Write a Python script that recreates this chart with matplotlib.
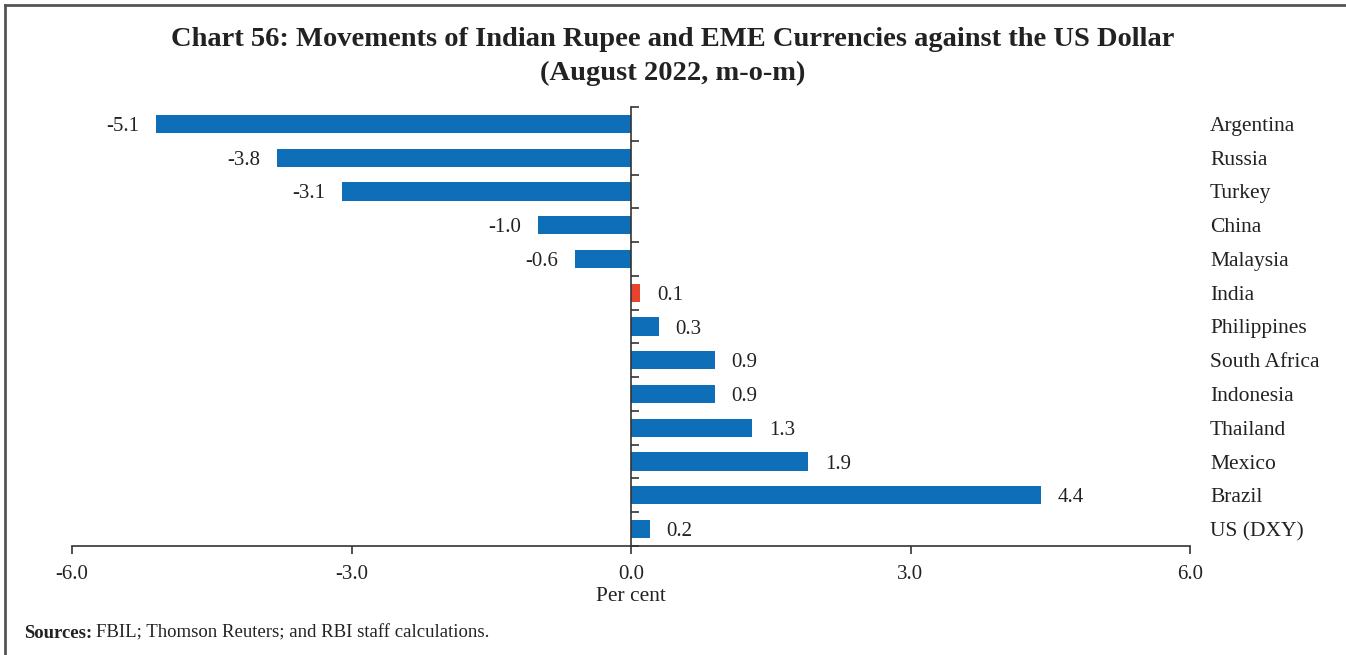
import matplotlib
matplotlib.use("Agg")
import matplotlib.pyplot as plt
from matplotlib.lines import Line2D
from matplotlib.transforms import blended_transform_factory
import numpy as np

categories = ["Argentina", "Russia", "Turkey", "China", "Malaysia", "India",
              "Philippines", "South Africa", "Indonesia", "Thailand", "Mexico",
              "Brazil", "US (DXY)"]
values = [-5.1, -3.8, -3.1, -1.0, -0.6, 0.1, 0.3, 0.9, 0.9, 1.3, 1.9, 4.4, 0.2]
xticks = [-6.0, -3.0, 0.0, 3.0, 6.0]
xtick_labels = ["-6.0", "-3.0", "0.0", "3.0", "6.0"]

blue = "#0e6eb8"
red = "#e8432c"
txt = "#222222"
colors = [red if c == "India" else blue for c in categories]

plt.rcParams["font.family"] = ["Liberation Serif", "DejaVu Serif"]

fig = plt.figure(figsize=(13.46, 6.55), dpi=100)
ax = fig.add_axes([72/1346, 1-546/655, (1190-72)/1346, (546-107)/655])

n = len(categories)
ypos = np.arange(n)
ax.barh(ypos, values, height=0.54, color=colors, zorder=2)
ax.set_ylim(n - 0.5, -0.5)
ax.set_xlim(-6, 6)

lab_tr = blended_transform_factory(fig.transFigure, ax.transData)
for y, v, c in zip(ypos, values, categories):
    if v < 0:
        ax.annotate(f"{v:.1f}", (v, y), xytext=(-12, 0), textcoords="offset points",
                    ha="right", va="center_baseline", fontsize=15, color=txt)
    else:
        ax.annotate(f"{v:.1f}", (v, y), xytext=(12, 0), textcoords="offset points",
                    ha="left", va="center_baseline", fontsize=15, color=txt)
    ax.text(1210/1346, y, c, transform=lab_tr,
            ha="left", va="center_baseline", fontsize=15.5, color=txt)

for s in ["top", "right"]:
    ax.spines[s].set_visible(False)
ax.spines["left"].set_position(("data", 0))
ax.spines["left"].set_color("#333333")
ax.spines["bottom"].set_color("#333333")
ax.spines["left"].set_linewidth(1.2)
ax.spines["bottom"].set_linewidth(1.2)

ax.set_yticks([])
ax.set_yticks(np.arange(-0.5, n, 1.0), minor=True)
ax.tick_params(axis="y", which="minor", direction="in", length=6, width=1.2, color="#333333")
ax.set_xticks(xticks)
ax.set_xticklabels(xtick_labels, fontsize=15, color=txt)
ax.tick_params(axis="x", direction="out", length=6, width=1.2, color="#333333", pad=8)
ax.set_xlabel("Per cent", fontsize=15.5, color=txt, labelpad=2)

fig.text(0.5, 1-39/655, "Chart 56: Movements of Indian Rupee and EME Currencies against the US Dollar",
         ha="center", va="center", fontsize=20.5, fontweight="bold", color=txt)
fig.text(0.5, 1-73/655, "(August 2022, m-o-m)",
         ha="center", va="center", fontsize=20.5, fontweight="bold", color=txt)

fig.text(24/1346, 1-633/655, "Sources:", ha="left", va="center", fontsize=13.5,
         fontweight="bold", color=txt)
fig.text(96/1346, 1-633/655, "FBIL; Thomson Reuters; and RBI staff calculations.",
         ha="left", va="center", fontsize=13.5, color=txt)

fig.add_artist(Line2D([5/1346, 1], [1-5/655, 1-5/655], transform=fig.transFigure,
                      color="#555555", linewidth=2))
fig.add_artist(Line2D([5/1346, 5/1346], [0, 1-5/655], transform=fig.transFigure,
                      color="#555555", linewidth=2))

fig.savefig("out.png", dpi=100)
